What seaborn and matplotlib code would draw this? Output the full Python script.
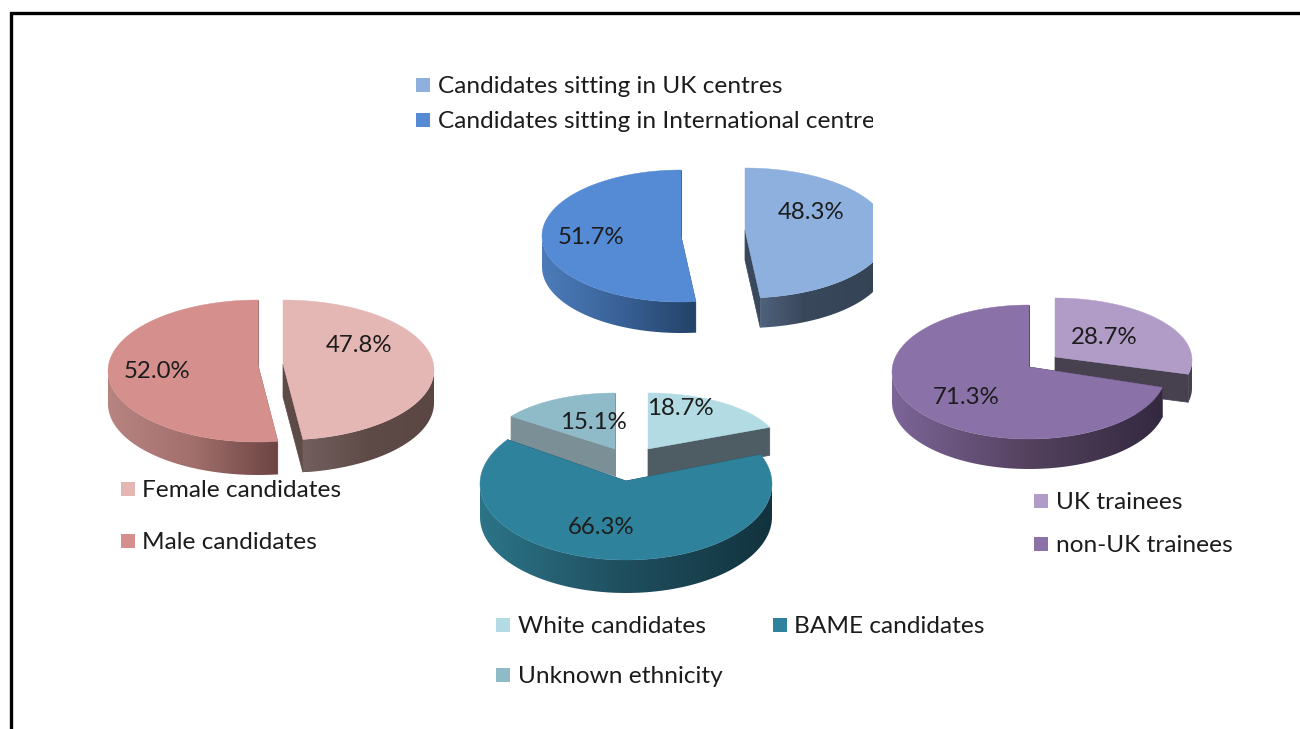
import matplotlib
matplotlib.use("Agg")
import matplotlib.pyplot as plt
from matplotlib.patches import Rectangle, Polygon
import seaborn as sns
import numpy as np

# values
centre_labels = ["Candidates sitting in UK centres", "Candidates sitting in International centres"]
centre_values = [48.3, 51.7]
gender_labels = ["Female candidates", "Male candidates"]
gender_values = [47.8, 52.0]
trainee_labels = ["UK trainees", "non-UK trainees"]
trainee_values = [28.7, 71.3]
ethnicity_labels = ["White candidates", "BAME candidates", "Unknown ethnicity"]
ethnicity_values = [18.7, 66.3, 15.1]

sns.set_theme(style="white")
plt.rcParams["font.family"] = ["Lato", "DejaVu Sans"]

TEXT = "#1c1c1c"
FS_LABEL = 17.3
FS_LEGEND = 17.6


def rim(g, t):
    return g["cx"] + g["rx"] * np.sin(t), g["cy"] - g["ry"] * np.cos(t)


def draw_slice(ax, g, t0, t1, top, wall, clip=None):
    # g = ellipse of the slice in pixels, t = clockwise from 12 o'clock
    drawn = []
    d = g["depth"]
    px, py = g["cx"], g["ay"]  # apex sits a bit above the ellipse centre
    # the two cut faces go first, the wall and top hide them when facing away
    for t in (t0, t1):
        x, y = rim(g, t)
        drawn += ax.fill([px, x, x, px], [py, y, y + d, py + d], color=wall[1], lw=0.5)
    # outer wall, only the front half can be seen
    a = max(t0, np.pi / 2)
    b = min(t1, 3 * np.pi / 2)
    if b > a:
        ts = np.linspace(a, b, 120)
        xs, ys = rim(g, ts)
        xp = np.r_[xs, xs[::-1]]
        yp = np.r_[ys, ys[::-1] + d]
        if clip is not None:
            xp = np.minimum(xp, clip.get_width())
        shape = Polygon(np.c_[xp, yp], transform=ax.transData)
        shade = np.array(sns.blend_palette(wall, 256))[np.newaxis, :, :]
        ax.imshow(shade, extent=(xs.min(), xs.max(), yp.max(), yp.min()), aspect="auto",
                  clip_path=shape, zorder=1, interpolation="bilinear")
    # top face
    ts = np.linspace(t0, t1, 200)
    xs, ys = rim(g, ts)
    drawn += ax.fill(np.r_[px, xs], np.r_[py, ys], color=top, lw=0.3)
    if clip is not None:
        for p in drawn:
            p.set_clip_path(clip)


def draw_pie(ax, values, slices, order, clip=None):
    edges = np.r_[0, np.cumsum(values)] / np.sum(values) * 2 * np.pi
    for i in order:
        s = slices[i]
        draw_slice(ax, s["g"], edges[i], edges[i + 1], s["top"], s["wall"], clip)
    for v, s in zip(values, slices):
        txt = ax.text(s["lab"][0], s["lab"][1] + 1.5, f"{v:.1f}%", ha="center", va="center",
                      fontsize=FS_LABEL, color=TEXT, zorder=5)
        if clip is not None:
            txt.set_clip_path(clip)
            txt.set_clip_on(True)


def legend_item(ax, x, y, label, color, clip=None):
    ax.add_patch(Rectangle((x - 7, y - 7), 14, 14, color=color, lw=0, zorder=5))
    txt = ax.text(x + 14.5, y + 1.5, label, ha="left", va="center", fontsize=FS_LEGEND,
                  color=TEXT, zorder=5)
    if clip is not None:
        txt.set_clip_path(clip)
        txt.set_clip_on(True)


fig = plt.figure(figsize=(13, 7.29), dpi=100)
ax = fig.add_axes([0, 0, 1, 1])
ax.set_autoscale_on(False)
ax.set_xlim(0, 1300)
ax.set_ylim(729, 0)
ax.axis("off")

# outer frame runs off the right and bottom of the picture
ax.plot([10.5, 10.5, 1300], [729, 13, 13], color="black", lw=2.4, solid_joinstyle="miter")

# top pie, cut off by its plot area
clip_box = Rectangle((0, 0), 873, 729, transform=ax.transData)
centre_slices = [
    {"g": dict(cx=745, cy=233, ay=230, rx=143, ry=65, depth=30), "top": "#8DB0DE",
     "wall": ["#4F627C", "#3A485C", "#374559", "#354355"], "lab": (811, 211)},
    {"g": dict(cx=681, cy=236, ay=236, rx=139, ry=66, depth=31), "top": "#558AD4",
     "wall": ["#4C7CBA", "#3A6298", "#234268"], "lab": (591, 236)},
]
draw_pie(ax, centre_values, centre_slices, [0, 1], clip_box)
legend_item(ax, 423, 85, centre_labels[0], "#8DB0DE", clip_box)
legend_item(ax, 423, 120, centre_labels[1], "#558AD4", clip_box)

# left pie
gender_slices = [
    {"g": dict(cx=283, cy=370, ay=364, rx=151, ry=70, depth=33), "top": "#E4B6B4",
     "wall": ["#73605E", "#5E4A47", "#5A4744"], "lab": (359, 344)},
    {"g": dict(cx=258, cy=371, ay=365, rx=150, ry=71, depth=33), "top": "#D58F8C",
     "wall": ["#B88482", "#A26F6C", "#6C4542"], "lab": (157, 370)},
]
draw_pie(ax, gender_values, gender_slices, [0, 1])
legend_item(ax, 128, 489, gender_labels[0], "#E4B6B4")
legend_item(ax, 128, 541, gender_labels[1], "#D58F8C")

# right pie
trainee_slices = [
    {"g": dict(cx=1055, cy=360, ay=357, rx=137, ry=62, depth=28), "top": "#B09CC7",
     "wall": ["#46404F", "#46404F"], "lab": (1104, 336)},
    {"g": dict(cx=1029, cy=372, ay=367, rx=137, ry=67, depth=30), "top": "#8A71A8",
     "wall": ["#7C6598", "#54425F", "#33293F"], "lab": (966, 396)},
]
draw_pie(ax, trainee_values, trainee_slices, [0, 1])
legend_item(ax, 1041, 501, trainee_labels[0], "#B09CC7")
legend_item(ax, 1041, 544, trainee_labels[1], "#8A71A8")

# bottom pie, small slices sit behind the big one
ethnicity_slices = [
    {"g": dict(cx=648, cy=449, ay=449, rx=132, ry=56, depth=28), "top": "#B2DBE4",
     "wall": ["#4E5C63", "#4E5C63"], "lab": (680, 407)},
    {"g": dict(cx=626, cy=484, ay=481, rx=146, ry=76, depth=33), "top": "#2F829C",
     "wall": ["#2C7488", "#1F4E5E", "#12333E"], "lab": (601, 526)},
    {"g": dict(cx=615, cy=449, ay=449, rx=128, ry=56, depth=27), "top": "#8FBBC9",
     "wall": ["#7B8F97", "#7B8F97"], "lab": (593, 421)},
]
draw_pie(ax, ethnicity_values, ethnicity_slices, [0, 2, 1])
legend_item(ax, 503, 625, ethnicity_labels[0], "#B2DBE4")
legend_item(ax, 780, 625, ethnicity_labels[1], "#2F829C")
legend_item(ax, 503, 675, ethnicity_labels[2], "#8FBBC9")

fig.savefig("out.png", dpi=100, facecolor="white")
